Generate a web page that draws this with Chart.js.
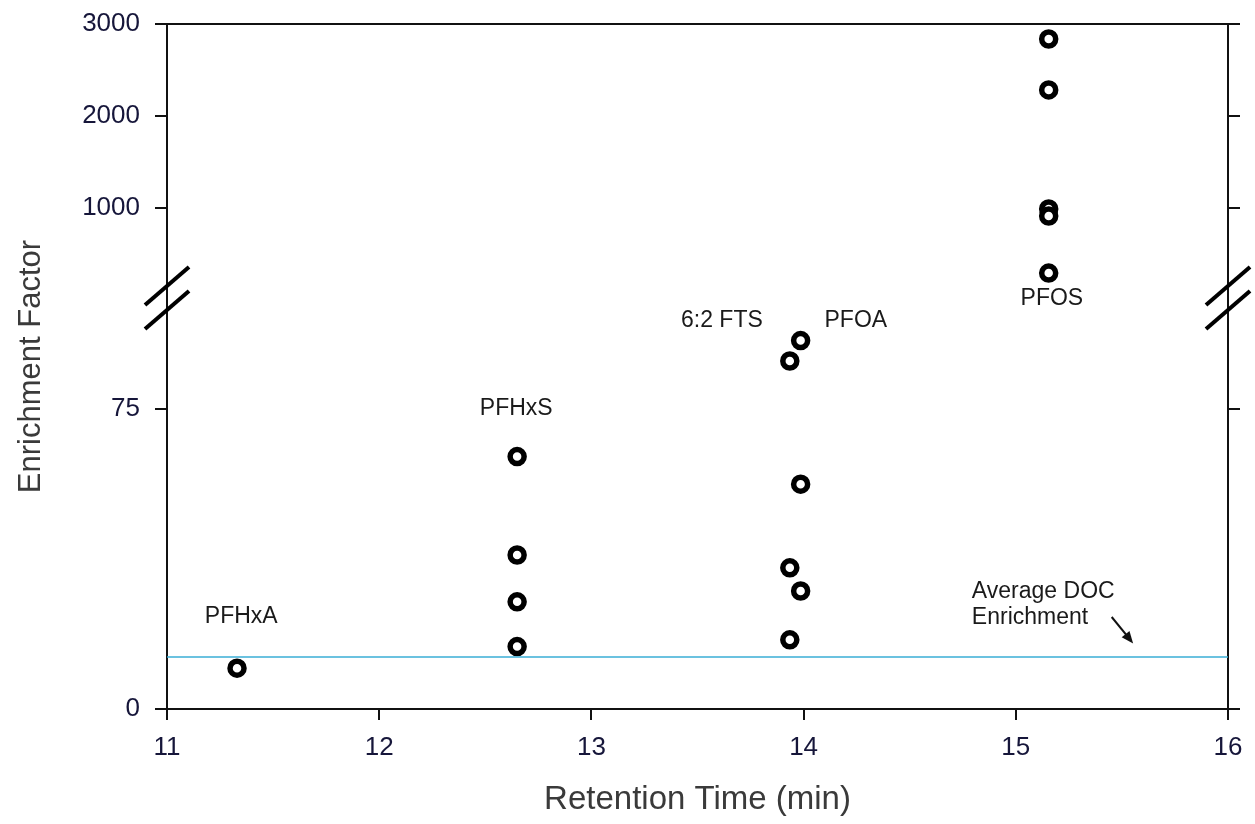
<!DOCTYPE html>
<html><head><meta charset="utf-8">
<script src="https://cdn.jsdelivr.net/npm/chart.js@4.4.1/dist/chart.umd.min.js"></script>
<style>html,body{margin:0;padding:0;background:#fff;}canvas{display:block;}</style>
</head><body>
<canvas id="c" width="1255" height="824"></canvas>
<script>
// ---- data ----
const xTicks = [11, 12, 13, 14, 15, 16];
const yLowTicks = [0, 75];
const yHighTicks = [1000, 2000, 3000];

const pfhxaX = [11.33];
const pfhxaY = [10.2];
const pfhxsX = [12.65, 12.65, 12.65, 12.65];
const pfhxsY = [63.1, 38.5, 26.8, 15.6];
const ftsX = [13.935, 13.935, 13.935];
const ftsY = [87.0, 35.3, 17.3];
const pfoaX = [13.986, 13.986, 13.986];
const pfoaY = [92.1, 56.2, 29.5];
const pfosX = [15.155, 15.155, 15.155, 15.155, 15.155];
const pfosY = [2837, 2283, 989, 913, 293];
const docX = [11, 16];
const docY = [13.0, 13.0];

const labelTexts = ['PFHxA', 'PFHxS', '6:2 FTS', 'PFOA', 'PFOS', 'Average DOC', 'Enrichment'];
const labelX = [11.35, 12.646, 13.615, 14.246, 15.17, 14.793, 14.793];
const labelY = [23.0, 75.0, 97.0, 97.0, 102.6, 29.25, 22.75];
const labelAlign = ['center', 'center', 'center', 'center', 'center', 'left', 'left'];
const arrowFrom = [15.452, 23.0];
const arrowTo = [15.553, 16.4];

// ---- styles ----
const FAM = "'Liberation Sans', Arial, Helvetica, sans-serif";
const tickColor = '#16163a';
const titleColor = '#3a3a3a';
const axisColor = '#111111';
Chart.defaults.font.family = FAM;

const pts = (xs, ys) => xs.map((x, i) => ({x, y: ys[i]}));
const marker = (data, axis) => ({
  data, yAxisID: axis, pointStyle: 'circle', pointRadius: 7, pointHoverRadius: 7,
  pointBorderWidth: 5.5, pointBackgroundColor: '#ffffff', pointBorderColor: '#000000',
  showLine: false
});

const noPad = a => { a.paddingTop = 0; a.paddingBottom = 0; };
const yAxisCommon = (extra) => Object.assign({
  type: 'linear',
  grid: {display: true, drawOnChartArea: false, drawTicks: true, tickLength: 12, color: axisColor, lineWidth: 2},
  border: {display: true, color: axisColor, width: 2},
}, extra);

const decor = {
  id: 'decor',
  afterDraw(chart) {
    const {ctx, scales} = chart;
    const sx = scales.x, yl = scales.yLow;
    ctx.save();
    ctx.fillStyle = '#1a1a1a';
    ctx.font = '23px ' + FAM;
    ctx.textBaseline = 'middle';
    labelTexts.forEach((t, i) => {
      ctx.textAlign = labelAlign[i];
      ctx.fillText(t, sx.getPixelForValue(labelX[i]), yl.getPixelForValue(labelY[i]));
    });
    // arrow
    const x1 = sx.getPixelForValue(arrowFrom[0]), y1 = yl.getPixelForValue(arrowFrom[1]);
    const x2 = sx.getPixelForValue(arrowTo[0]), y2 = yl.getPixelForValue(arrowTo[1]);
    const ang = Math.atan2(y2 - y1, x2 - x1);
    ctx.strokeStyle = '#111'; ctx.fillStyle = '#111'; ctx.lineWidth = 2;
    ctx.beginPath(); ctx.moveTo(x1, y1); ctx.lineTo(x2 - 8 * Math.cos(ang), y2 - 8 * Math.sin(ang)); ctx.stroke();
    ctx.beginPath();
    ctx.moveTo(x2, y2);
    ctx.lineTo(x2 - 12 * Math.cos(ang) + 5 * Math.sin(ang), y2 - 12 * Math.sin(ang) - 5 * Math.cos(ang));
    ctx.lineTo(x2 - 12 * Math.cos(ang) - 5 * Math.sin(ang), y2 - 12 * Math.sin(ang) + 5 * Math.cos(ang));
    ctx.closePath(); ctx.fill();
    // axis break marks
    const by = scales.yHigh.bottom;
    ctx.lineWidth = 4; ctx.lineCap = 'butt'; ctx.strokeStyle = '#000';
    [chart.chartArea.left, chart.chartArea.right].forEach(ax => {
      [-14, 10].forEach(off => {
        ctx.beginPath();
        ctx.moveTo(ax - 22, by + off + 19);
        ctx.lineTo(ax + 22, by + off - 19);
        ctx.stroke();
      });
    });
    ctx.restore();
  }
};

new Chart(document.getElementById('c'), {
  type: 'scatter',
  data: {
    datasets: [
      {
        type: 'line', data: pts(docX, docY), yAxisID: 'yLow', showLine: true,
        borderColor: '#3aaed6', borderWidth: 1.5, pointRadius: 0, fill: false
      },
      marker(pts(pfhxaX, pfhxaY), 'yLow'),
      marker(pts(pfhxsX, pfhxsY), 'yLow'),
      marker(pts(ftsX, ftsY), 'yLow'),
      marker(pts(pfoaX, pfoaY), 'yLow'),
      marker(pts(pfosX, pfosY), 'yHigh')
    ]
  },
  options: {
    responsive: false, animation: false,
    layout: {padding: 0},
    plugins: {
      legend: {display: false}, tooltip: {enabled: false},
      title: {
        display: true, position: 'left', fullSize: false, text: 'Enrichment Factor',
        color: titleColor, font: {size: 31, weight: 'normal', family: FAM, lineHeight: 1.2},
        padding: {top: 12.4, bottom: 10}
      }
    },
    scales: {
      x: {
        type: 'linear', position: 'bottom', min: 11, max: 16,
        afterBuildTicks: a => { a.ticks = xTicks.map(v => ({value: v})); },
        ticks: {font: {size: 26, family: FAM}, color: tickColor, padding: 12, maxRotation: 0,
          callback: v => String(v)},
        grid: {display: true, drawOnChartArea: false, drawTicks: true, tickLength: 11, color: axisColor, lineWidth: 2},
        border: {display: true, color: axisColor, width: 2},
        title: {display: true, text: 'Retention Time (min)', color: titleColor,
          font: {size: 33, family: FAM, lineHeight: 1.2}, padding: {top: 0, bottom: 4}},
        afterFit: a => { a.height = 115; }
      },
      xTop: {
        type: 'linear', position: 'top', min: 11, max: 16,
        ticks: {display: false}, grid: {display: false},
        border: {display: true, color: axisColor, width: 2},
        afterFit: a => { a.height = 24; }
      },
      yLow: yAxisCommon({
        position: 'left', stack: 'left', stackWeight: 409, weight: 0, min: 0, max: 102.25,
        afterBuildTicks: a => { a.ticks = yLowTicks.map(v => ({value: v})); },
        ticks: {font: {size: 26, family: FAM}, color: tickColor, padding: 15, callback: v => String(v)},
        afterFit: a => { a.width = 107.4; noPad(a); }
      }),
      yHigh: yAxisCommon({
        position: 'left', stack: 'left', stackWeight: 276, weight: 1, min: 0, max: 3000,
        afterBuildTicks: a => { a.ticks = yHighTicks.map(v => ({value: v})); },
        ticks: {font: {size: 26, family: FAM}, color: tickColor, padding: 15, callback: v => String(v)},
        afterFit: a => { a.width = 107.4; noPad(a); }
      }),
      yLowR: yAxisCommon({
        position: 'right', stack: 'right', stackWeight: 409, weight: 1, min: 0, max: 102.25,
        afterBuildTicks: a => { a.ticks = yLowTicks.map(v => ({value: v})); },
        ticks: {callback: () => '', color: 'rgba(0,0,0,0)'},
        afterFit: a => { a.width = 27; noPad(a); }
      }),
      yHighR: yAxisCommon({
        position: 'right', stack: 'right', stackWeight: 276, weight: 0, min: 0, max: 3000,
        afterBuildTicks: a => { a.ticks = yHighTicks.map(v => ({value: v})); },
        ticks: {callback: () => '', color: 'rgba(0,0,0,0)'},
        afterFit: a => { a.width = 27; noPad(a); }
      })
    }
  },
  plugins: [decor]
});
</script>
</body></html>
